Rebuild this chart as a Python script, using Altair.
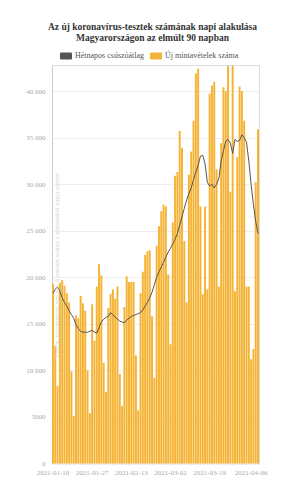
import altair as alt
import pandas as pd

dates = pd.date_range("2021-01-10", periods=90).strftime("%Y-%m-%d").tolist()

tests = [19300, 12600, 8300, 19400, 19700, 19100, 18300, 17300, 9900, 5100,
         15900, 15600, 18000, 17200, 16400, 10000, 5400, 17100, 13200, 19000,
         21400, 20200, 10800, 7700, 16700, 18200, 18700, 17700, 19000, 9600,
         6200, 16800, 20100, 19500, 19500, 19500, 11600, 5700, 18300, 20600,
         22400, 22800, 22900, 15800, 9200, 23400, 25500, 27100, 27800, 27600,
         20300, 12800, 25900, 30900, 31300, 35700, 33900, 23900, 17300, 31000,
         33500, 36800, 41900, 42400, 27600, 18200, 27600, 18700, 39700, 40600,
         41000, 31600, 19000, 34400, 40400, 40000, 42700, 29200, 42700, 18500,
         32900, 40500, 40000, 36800, 19000, 19000, 11200, 12300, 30200, 35900]

avg7 = [18300, 18700, 19000, 18500, 17800, 17300, 16900, 16400, 16000, 15600,
        14900, 14500, 14200, 14100, 14100, 14100, 14200, 14300, 14100, 14000,
        14600, 15200, 15500, 15700, 15800, 16200, 16000, 15700, 15500, 15300,
        15200, 15100, 15400, 15600, 15800, 15900, 16000, 16100, 16200, 16500,
        16900, 17300, 17800, 18400, 19200, 20000, 20600, 21100, 21600, 22200,
        22700, 23100, 23600, 24100, 24700, 25600, 26500, 27400, 28300, 29000,
        29600, 30500, 31300, 32000, 33000, 33100, 32200, 30200, 29800, 30000,
        29600, 30000, 30600, 32500, 33600, 34600, 34800, 34400, 33300, 34800,
        34600, 34700, 35300, 35000, 34500, 32500, 30000, 27800, 26000, 24700]

x_ticks = ["2021-01-10", "2021-01-27", "2021-02-13", "2021-03-02", "2021-03-19", "2021-04-06"]
y_ticks = [0, 5000, 10000, 15000, 20000, 25000, 30000, 35000, 40000]
series_names = ["Hétnapos csúszóátlag", "Új mintavételek száma"]
series_colors = ["#555555", "#f5b335"]
title_lines = ["Az új koronavírus-tesztek számának napi alakulása",
               "Magyarországon az elmúlt 90 napban"]
note = "Forrás: koronavirus.gov.hu | A tesztek száma a mintavétel napja szerint"

FONT = "Liberation Serif"
PILL = ("M-0.8,-0.58 L0.8,-0.58 Q1,-0.58 1,-0.38 L1,0.38 Q1,0.58 0.8,0.58 "
        "L-0.8,0.58 Q-1,0.58 -1,0.38 L-1,-0.38 Q-1,-0.58 -0.8,-0.58 Z")

df = pd.DataFrame({"date": dates, "tests": tests, "avg": avg7,
                   "series": series_names[1]})

x_enc = alt.X("date:O",
              scale=alt.Scale(paddingInner=0.15, paddingOuter=0),
              axis=alt.Axis(values=x_ticks, title=None, labelAngle=0, domain=False,
                            ticks=False, labelFont=FONT, labelFontSize=7,
                            labelColor="#aaaaaa", labelPadding=5, labelOverlap=False))

y_enc = alt.Y("tests:Q",
              scale=alt.Scale(domain=[0, 42800], nice=False),
              axis=alt.Axis(values=y_ticks, title=None, grid=True, gridColor="#eeeeee",
                            domain=True, domainDash=[1, 1], domainColor="#bbbbbb",
                            ticks=False, labelFont=FONT, labelFontSize=7,
                            labelColor="#aaaaaa", labelPadding=7,
                            labelExpr="datum.value >= 10000 ? replace(format(datum.value, ','), ',', ' ') : format(datum.value, 'd')"))

bars = alt.Chart(df).mark_bar().encode(
    x=x_enc,
    y=y_enc,
    color=alt.Color("series:N",
                    scale=alt.Scale(domain=series_names, range=series_colors),
                    legend=alt.Legend(title=None, orient="none", legendX=8, legendY=-15,
                                      direction="horizontal", symbolType=PILL,
                                      symbolSize=144, symbolStrokeWidth=0,
                                      labelFont=FONT, labelFontSize=8,
                                      labelColor="#555555", columnPadding=5,
                                      labelOffset=3)),
)

line = alt.Chart(df).mark_line(color=series_colors[0], strokeWidth=1).encode(
    x="date:O",
    y="avg:Q",
)

watermark = alt.Chart(pd.DataFrame({"t": [note]})).mark_text(
    angle=270, font=FONT, fontSize=6.5, color="#d4d4d4", align="center", baseline="middle"
).encode(x=alt.value(5), y=alt.value(200), text="t:N")

chart = alt.layer(bars, line, watermark).properties(
    width=207,
    height=398.5,
    padding={"left": 52, "top": 65, "right": 44, "bottom": 16},
    autosize=alt.AutoSizeParams(type="none"),
    title=alt.TitleParams(text=title_lines, font=FONT, fontSize=9.5, fontWeight="bold",
                          color="#333333", anchor="middle", offset=8, lineHeight=10.5,
                          dx=-3),
).configure_view(stroke=None).configure(background="white")

chart.save("out.html", embed_options={"renderer": "svg", "actions": False})
